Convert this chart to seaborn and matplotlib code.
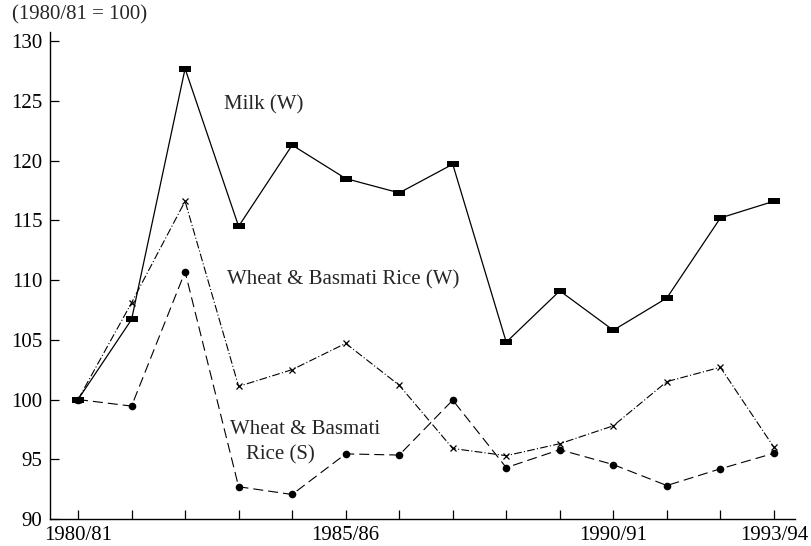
import numpy as np
import pandas as pd
import matplotlib
matplotlib.use("Agg")
import matplotlib.pyplot as plt
import seaborn as sns

# Data (index 1980/81 = 100)
years = ['1980/81', '1981/82', '1982/83', '1983/84', '1984/85', '1985/86', '1986/87',
         '1987/88', '1988/89', '1989/90', '1990/91', '1991/92', '1992/93', '1993/94']
shown_labels = ['1980/81', '1985/86', '1990/91', '1993/94']
milk_w = [100.0, 106.7, 127.7, 114.5, 121.3, 118.5, 117.3, 119.7, 104.8, 109.1, 105.8, 108.5, 115.2, 116.6]
wheat_rice_w = [100.0, 108.1, 116.6, 101.1, 102.5, 104.7, 101.2, 95.9, 95.3, 96.3, 97.8, 101.5, 102.7, 96.0]
wheat_rice_s = [100.0, 99.45, 110.7, 92.7, 92.05, 95.45, 95.35, 99.95, 94.3, 95.8, 94.55, 92.8, 94.2, 95.5]

x = np.arange(len(years))
df = pd.DataFrame({'x': x, 'milk': milk_w, 'wr_w': wheat_rice_w, 'wr_s': wheat_rice_s})

sns.set_style("ticks")
plt.rcParams['font.family'] = ['Liberation Serif', 'DejaVu Serif']
plt.rcParams['font.size'] = 15

fig = plt.figure(figsize=(8.11, 5.46), dpi=100)
ax = fig.add_axes([0.0617, 0.0495, 0.9183, 0.8915])

# flat filled rectangle for milk points
rect = [(-1, -0.5), (1, -0.5), (1, 0.5), (-1, 0.5), (-1, -0.5)]

sns.lineplot(data=df, x='x', y='milk', ax=ax, color='black', linewidth=0.9,
             marker=rect, markersize=8, markeredgewidth=0, markerfacecolor='black')
sns.lineplot(data=df, x='x', y='wr_w', ax=ax, color='black', linewidth=0.8,
             linestyle=(0, (7, 2, 1, 2)), marker='x', markersize=5,
             markeredgewidth=0.9, markeredgecolor='black')
sns.lineplot(data=df, x='x', y='wr_s', ax=ax, color='black', linewidth=0.8,
             linestyle=(0, (9, 4.5)), marker='o', markersize=5.5,
             markeredgewidth=0, markerfacecolor='black')

ax.set_xlim(-0.523, 13.39)
ax.set_ylim(90.25, 130.75)
ax.set_xticks(x)
ax.set_xticklabels([y if y in shown_labels else '' for y in years])
ax.set_yticks([90, 95, 100, 105, 110, 115, 120, 125, 130])
ax.tick_params(axis='both', direction='in', length=6.5, width=0.9, colors='black',
               labelsize=15)
ax.tick_params(axis='y', pad=5.5)
ax.tick_params(axis='x', pad=5)
ax.set_xlabel('')
ax.set_ylabel('')
sns.despine(ax=ax)
for s in ['left', 'bottom']:
    ax.spines[s].set_linewidth(1.0)
    ax.spines[s].set_color('black')

ax.text(2.73, 124.7, 'Milk (W)', fontsize=15, va='center', ha='left')
ax.text(2.79, 110.0, 'Wheat & Basmati Rice (W)', fontsize=15, va='center', ha='left')
ax.text(2.84, 97.45, 'Wheat & Basmati', fontsize=15, va='center', ha='left')
ax.text(3.14, 95.4, 'Rice (S)', fontsize=15, va='center', ha='left')

fig.text(0.0148, 0.973, '(1980/81 = 100)', fontsize=15, va='center', ha='left')

fig.savefig('out.png', dpi=100)
